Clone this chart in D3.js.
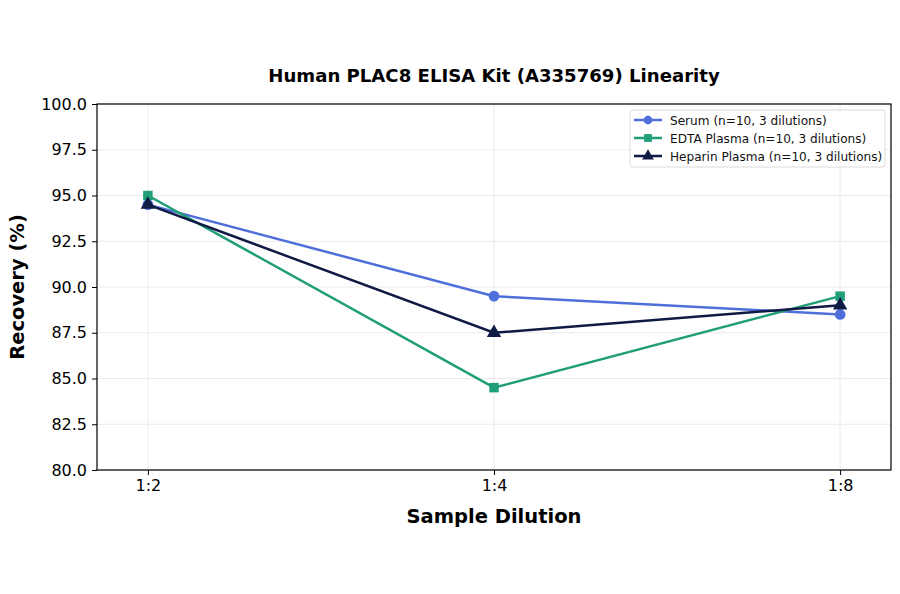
<!DOCTYPE html>
<html>
<head>
<meta charset="utf-8">
<script src="https://cdn.jsdelivr.net/npm/d3@7"></script>
<style>
  body { margin: 0; background: #fff; }
  svg { font-family: "DejaVu Sans", sans-serif; }
</style>
</head>
<body>
<svg id="chart" width="900" height="594"></svg>
<script>
// chart data
const dilutions = ["1:2", "1:4", "1:8"];
const serum = [94.5, 89.5, 88.5];
const edta = [95.0, 84.5, 89.5];
const heparin = [94.5, 87.5, 89.0];
const yTicks = [80, 82.5, 85, 87.5, 90, 92.5, 95, 97.5, 100];

const series = [
  { name: "Serum (n=10, 3 dilutions)", values: serum, color: "#4e6fd9", shape: d3.symbolCircle },
  { name: "EDTA Plasma (n=10, 3 dilutions)", values: edta, color: "#1f9e78", shape: d3.symbolSquare },
  { name: "Heparin Plasma (n=10, 3 dilutions)", values: heparin, color: "#0f1a45", shape: d3.symbolTriangle }
];

const svg = d3.select("#chart");
const margin = { left: 97, right: 9, top: 104, bottom: 124 };
const W = 900 - margin.left - margin.right;
const H = 594 - margin.top - margin.bottom;

const x = d3.scaleLinear().domain([-0.147, dilutions.length - 1 + 0.147]).range([0, W]);
const y = d3.scaleLinear().domain([80, 100]).range([H, 0]);

const g = svg.append("g").attr("transform", `translate(${margin.left},${margin.top})`);

// grid
g.append("g").selectAll("line").data(yTicks).join("line")
  .attr("x1", 0).attr("x2", W)
  .attr("y1", d => y(d)).attr("y2", d => y(d))
  .attr("stroke", "#e6e6e6").attr("stroke-width", 0.8);
g.append("g").selectAll("line").data(dilutions).join("line")
  .attr("x1", (d, i) => x(i)).attr("x2", (d, i) => x(i))
  .attr("y1", 0).attr("y2", H)
  .attr("stroke", "#e6e6e6").attr("stroke-width", 0.8);

// axes
const yAxis = g.append("g")
  .call(d3.axisLeft(y).tickValues(yTicks).tickFormat(d3.format(".1f")).tickSize(5).tickPadding(5));
const xAxis = g.append("g").attr("transform", `translate(0,${H})`)
  .call(d3.axisBottom(x).tickValues(d3.range(dilutions.length)).tickFormat(i => dilutions[i]).tickSize(5).tickPadding(5));
[xAxis, yAxis].forEach(a => {
  a.attr("font-family", "DejaVu Sans").attr("font-size", 16);
  a.selectAll("text").attr("fill", "#000");
  a.selectAll("line").attr("stroke", "#000");
  a.select(".domain").remove();
});

// frame
g.append("rect").attr("width", W).attr("height", H)
  .attr("fill", "none").attr("stroke", "#000").attr("stroke-width", 1.2);

// lines and markers
const line = d3.line().x((d, i) => x(i)).y(d => y(d));
series.forEach(s => {
  g.append("path").datum(s.values)
    .attr("d", line)
    .attr("fill", "none")
    .attr("stroke", s.color)
    .attr("stroke-width", 2.5);
  g.append("g").selectAll("path").data(s.values).join("path")
    .attr("transform", (d, i) => `translate(${x(i)},${y(d)})`)
    .attr("d", d3.symbol().type(s.shape).size(90))
    .attr("fill", s.color);
});

// title and labels
svg.append("text").attr("x", margin.left + W / 2).attr("y", 82)
  .attr("text-anchor", "middle").attr("font-size", 18.1).attr("font-weight", "bold")
  .text("Human PLAC8 ELISA Kit (A335769) Linearity");
svg.append("text").attr("x", margin.left + W / 2).attr("y", 523)
  .attr("text-anchor", "middle").attr("font-size", 19.5).attr("font-weight", "bold")
  .text("Sample Dilution");
svg.append("text")
  .attr("transform", `translate(24,${margin.top + H / 2}) rotate(-90)`)
  .attr("text-anchor", "middle").attr("font-size", 19.5).attr("font-weight", "bold")
  .text("Recovery (%)");

// legend
const lg = svg.append("g").attr("transform", "translate(630,110)");
lg.append("rect").attr("width", 255).attr("height", 57).attr("rx", 3)
  .attr("fill", "#fff").attr("fill-opacity", 0.8)
  .attr("stroke", "#d0d0d0").attr("stroke-width", 0.8);
series.forEach((s, i) => {
  const row = lg.append("g").attr("transform", `translate(0,${10 + i * 18})`);
  row.append("line").attr("x1", 4).attr("x2", 32).attr("stroke", s.color).attr("stroke-width", 2.5);
  row.append("path").attr("transform", "translate(18,0)")
    .attr("d", d3.symbol().type(s.shape).size(60)).attr("fill", s.color);
  row.append("text").attr("x", 40).attr("y", 4.5).attr("font-size", 12.1).attr("fill", "#111").text(s.name);
});
</script>
</body>
</html>
